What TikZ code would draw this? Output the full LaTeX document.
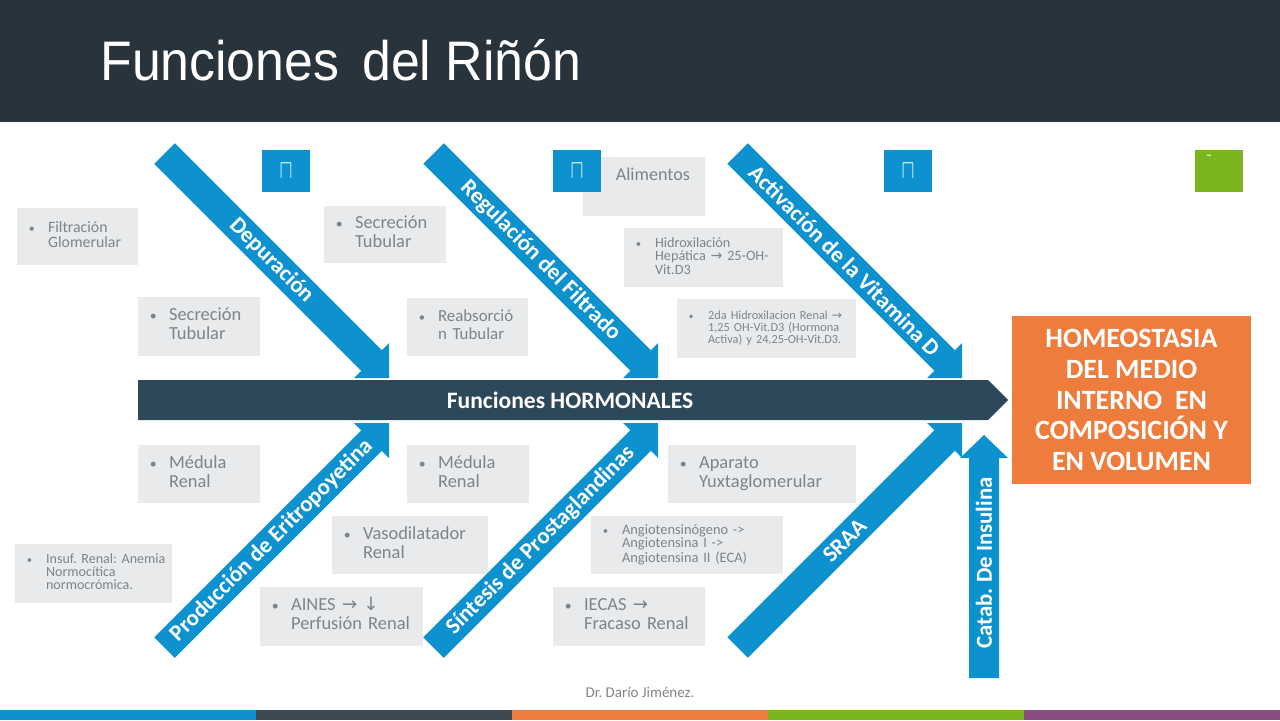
\documentclass[tikz,border=0pt]{standalone}
\usepackage{fontspec}
\setmainfont{Carlito}
\newfontfamily\titulo{Liberation Sans}
\newfontfamily\simbolo{DejaVu Sans}
\usepackage{graphicx}
\frenchspacing

\definecolor{cabecera}{HTML}{29333B}
\definecolor{espinazo}{HTML}{2D4859}
\definecolor{azul}{HTML}{0E92CF}
\definecolor{naranja}{HTML}{EE7D3D}
\definecolor{verde}{HTML}{7AB51D}
\definecolor{morado}{HTML}{874D7E}
\definecolor{franjagris}{HTML}{3D4A53}
\definecolor{cajagris}{HTML}{E8EAEC}
\definecolor{textogris}{HTML}{7F8488}

\def\px{0.02cm}
\newcommand\tam[2]{\fontsize{#1}{#2}\selectfont}
\newcommand\flecha{{\simbolo →}}
\newcommand\vin[1]{\begin{tabular}{@{}p{12pt}@{}l@{}}\hspace{1pt}\scalebox{0.75}{\textbullet}&\begin{tabular}[t]{@{}l@{}}#1\end{tabular}\end{tabular}}

\tikzset{
  caja/.style n args={3}{fill=cajagris, text=textogris, align=left, inner xsep=10*\px,
    minimum width=#1*\px, text width=#1*\px-20*\px, minimum height=#2*\px, font=#3},
  rotulo/.style={text=white, font=\bfseries\tam{13}{13}, inner sep=0pt},
  cuadro/.style={minimum width=48*\px, minimum height=42*\px, inner sep=0pt, text=white}
}

\begin{document}
\begin{tikzpicture}[x=0.02cm, y=-0.02cm]
  \useasboundingbox (0,0) rectangle (1280,720);

  \fill[cabecera] (0,0) rectangle (1280,122);
  \node[anchor=base west, text=white, font=\titulo\tam{31.7}{34}, inner sep=0pt] (tit) at (100,80)
    {\scalebox{0.93}[1]{Funciones\ \,del Riñón}};

  \foreach \c [count=\i from 0] in {azul,franjagris,naranja,verde,morado}
    \fill[\c] (\i*256,710) rectangle ({(\i+1)*256},720);
  \node[text=textogris, font=\tam{8.5}{9}] (autor) at (640,692) {Dr. Darío Jiménez.};

  \node[caja={121}{57}{\tam{9}{8.5}}] (filt) at (77.5,236.5) {\vin{Filtración\\Glomerular}};
  \node[caja={122}{57}{\tam{10.5}{10.8}}] (sec1) at (385,234.5) {\vin{Secreción\\Tubular}};
  \node[caja={122}{59}{\tam{10.5}{10.8}}] (sec2) at (199,326.5) {\vin{Secreción\\Tubular}};
  \node[caja={121}{58}{\tam{9.6}{10.2}}] (reab) at (467.5,327) {\vin{Reabsorció\\n Tubular}};
  \node[caja={122}{59}{\tam{10.3}{10.8}}] (alim) at (644,186.5) {\hspace*{13pt}Alimentos\\\strut};
  \node[caja={159}{59}{\tam{8.1}{7.1}}] (hidro) at (703.5,257.5) {\vin{Hidroxilación\\Hepática \flecha{} 25-OH-\\Vit.D3}};
  \node[caja={179}{59}{\tam{7}{6}}] (renal) at (766.5,328.5) {\vin{2da Hidroxilacion Renal \flecha\\1,25 OH-Vit.D3 (Hormona\\Activa) y 24,25-OH-Vit.D3.}};

  \node[caja={122}{58}{\tam{10.5}{10.8}}] (med1) at (199,474) {\vin{Médula\\Renal}};
  \node[caja={157}{59}{\tam{8}{6.8}}] (insuf) at (93.5,573.5) {\vin{Insuf. Renal: Anemia\\Normocítica\\normocrómica.}};
  \node[caja={156}{58}{\tam{10.5}{10.8}}] (vaso) at (410,545) {\vin{Vasodilatador\\Renal}};
  \node[caja={163}{59}{\tam{10.5}{10.8}}] (aines) at (341.5,616.5) {\vin{AINES \flecha{} {\simbolo ↓}\\Perfusión Renal}};
  \node[caja={122}{58}{\tam{10.5}{10.8}}] (med2) at (468,474) {\vin{Médula\\Renal}};
  \node[caja={188}{58}{\tam{10.5}{10.8}}] (apar) at (762,474) {\vin{Aparato\\Yuxtaglomerular}};
  \node[caja={192}{58}{\tam{8.2}{7.1}}] (angio) at (687,545) {\vin{Angiotensinógeno ->\\Angiotensina I ->\\Angiotensina II (ECA)}};
  \node[caja={152}{59}{\tam{10.5}{10.8}}] (iecas) at (629,616.5) {\vin{IECAS \flecha\\Fracaso Renal}};

  \node[cuadro, fill=azul] (ic1) at (286,171) {\scalebox{1.1}[1.5]{$\sqcap$}};
  \node[cuadro, fill=azul] (ic2) at (577,171) {\scalebox{1.1}[1.5]{$\sqcap$}};
  \node[cuadro, fill=azul] (ic3) at (908,171) {\scalebox{1.1}[1.5]{$\sqcap$}};
  \node[cuadro, fill=verde] (ic4) at (1219,171) {};
  \node[text=white, font=\tam{9}{9}, inner sep=0pt] (tilde) at (1209,160) {˜};

  \foreach \tx/\ty/\sg/\nm/\lab in {389/378/1/dep/Depuración, 658/378/1/reg/Regulación del Filtrado,
      962/378/1/vit/Activación de la Vitamina D, 389/423/-1/epo/Producción de Eritropoyetina,
      658/423/-1/pg/Síntesis de Prostaglandinas, 962/423/-1/sraa/SRAA}{
    \begin{scope}[shift={(\tx,\ty)}]
      \fill[azul] (0,0) -- ({-17.5+17.5*\sg},{-17.5*\sg-17.5}) -- ({-17.5+10.25*\sg},{-17.5*\sg-10.25})
        -- ({-224.5+10.25*\sg},{-224.5*\sg-10.25}) -- ({-224.5-10.25*\sg},{-224.5*\sg+10.25})
        -- ({-17.5-10.25*\sg},{-17.5*\sg+10.25}) -- ({-17.5-17.5*\sg},{-17.5*\sg+17.5}) -- cycle;
      \node[rotulo, rotate=-45*\sg] (\nm) at (-117.5,{-117.5*\sg}) {\lab};
    \end{scope}
  }

  \fill[azul] (969,678) -- (969,458) -- (960,458) -- (984,435) -- (1008,458) -- (999,458) -- (999,678) -- cycle;
  \node[rotulo, rotate=90] (insulina) at (984,563) {Catab. De Insulina};

  \fill[espinazo] (138,380) -- (988,380) -- (1008,400) -- (988,420) -- (138,420) -- cycle;
  \node[rotulo, font=\bfseries\tam{13.4}{13.4}] (hormonal) at (570,400) {Funciones HORMONALES};

  \node[fill=naranja, text=white, font=\bfseries\tam{15.9}{17.6}, align=center,
    minimum width=239*\px, minimum height=168*\px] (homeo) at (1131.5,400)
    {HOMEOSTASIA\\DEL MEDIO\\INTERNO\ \ EN\\COMPOSICIÓN Y\\EN VOLUMEN};
\end{tikzpicture}
\end{document}
